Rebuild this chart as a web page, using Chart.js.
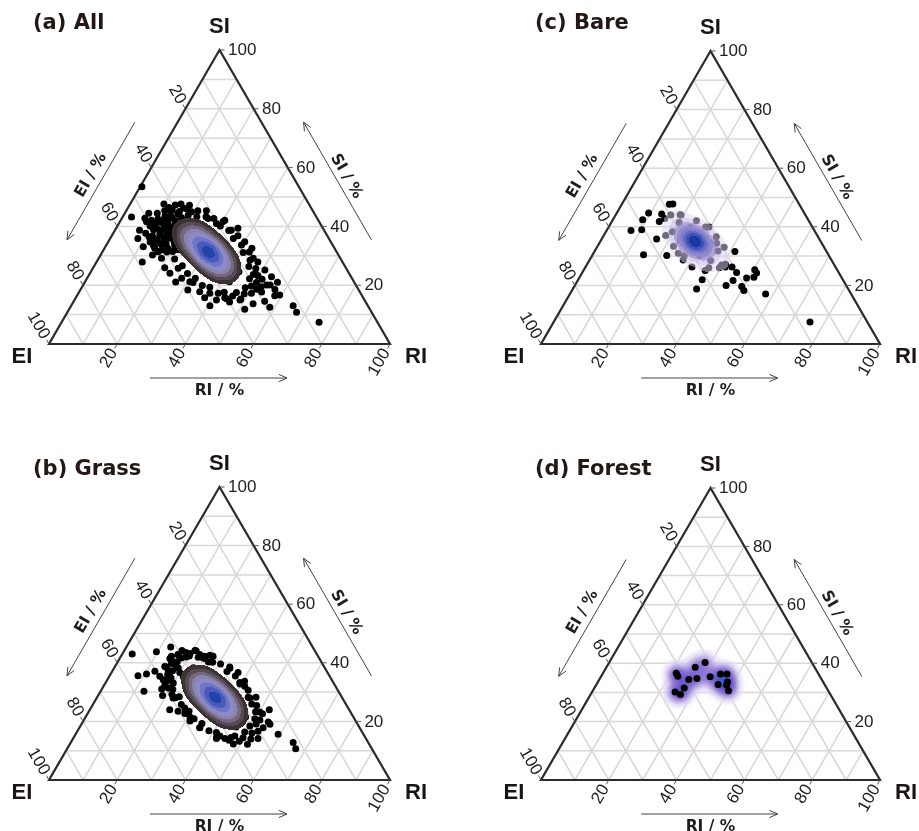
<!DOCTYPE html>
<html>
<head>
<meta charset="utf-8">
<script src="https://cdn.jsdelivr.net/npm/chart.js@4/dist/chart.umd.min.js"></script>
<style>
  html, body { margin: 0; padding: 0; background: #ffffff; }
  body { width: 919px; height: 831px; position: relative; overflow: hidden; }
  canvas { position: absolute; }
</style>
</head>
<body>
<canvas id="pa" width="460" height="415" style="left:0px;top:0px"></canvas>
<canvas id="pc" width="459" height="415" style="left:460px;top:0px"></canvas>
<canvas id="pb" width="460" height="416" style="left:0px;top:415px"></canvas>
<canvas id="pd" width="459" height="416" style="left:460px;top:415px"></canvas>
<script>
// ---------------- data (ternary percentages: SI, RI; EI = 100 - SI - RI) ----------------
const gridValues = [10, 20, 30, 40, 50, 60, 70, 80, 90];
const tickValues = [20, 40, 60, 80, 100];
const cornerNames = ['SI', 'EI', 'RI'];
const arrowTitles = ['SI / %', 'EI / %', 'RI / %'];
const panelTitles = ['(a) All', '(b) Grass', '(c) Bare', '(d) Forest'];

// (a) All -- single observations
const allSI = [53.5,43.2,47.6,47.6,45.5,44.5,44.5,41.6,38.7,35.9,33.1,30.3,27.9,32.0,29.2,24.1,22.4,21.2,17.8,15.0,14.3,11.8,25.2,22.9,16.4,20.1,13.0,10.8,7.4,29.2,34.8,38.7,41.0,42.7,43.3,43.8,18.6,
  42.8,42.1,42.5,43.5,43.2,44.2,42.1,40.1,39.4,40.8,40.1,41.1,37.7,36.7,37.4,38.1,38.7,39.4,34.7,35.4,34.0,36.0,36.7,38.1,41.5,40.8,32.6,33.3,34.7,32.6,
  41.6,40.9,41.3,42.3,42.0,43.0,40.9,38.9,38.2,39.6,38.9,39.9,36.5,35.5,36.2,36.9,37.5,38.2,33.5,34.2,34.8,35.5,36.9,40.3,39.6,32.1,31.4,46.4,45.9,
  19.1,17.5,17.6,19.3,22.4,26.6,31.5,36.2,40.4,43.5,45.1,45.0,43.3,40.1,35.9,31.1,26.4,22.2,
  23.2,17.7,15.0,15.7,18.4,21.1,25.9,15.7,32.6,39.4,42.1,27.9,20.1,16.7,13.7,13.0,
  17.3,15.3,15.4,17.3,20.9,25.8,31.3,36.9,41.7,45.3,47.3,47.2,45.3,41.7,36.8,31.3,25.7,20.9,
  17.1,16.3,17.3,19.9,24.0,28.9,34.1,39.0,42.9,45.5,46.3,45.3,42.7,38.6,33.7,28.5,23.6,19.7,
  22.0,21.0,18.5,24.0,19.5,14.5,12.5];
const allRI = [0.5,2.6,9.9,14.9,12.9,7.0,9.5,7.8,7.2,8.1,11.1,15.2,13.4,17.0,18.4,23.4,27.7,30.7,35.3,41.6,45.8,51.5,50.7,53.8,58.0,53.8,65.1,67.2,75.5,45.3,40.0,34.1,28.6,25.3,21.7,18.9,51.6,
  6.7,9.0,10.7,12.3,14.4,15.7,18.7,9.6,11.9,13.3,15.4,16.6,9.5,12.0,13.8,15.5,17.2,19.0,12.3,13.9,16.7,17.7,19.4,21.1,21.2,23.2,18.5,20.2,21.6,14.7,
  8.3,10.6,12.3,13.9,16.0,17.3,20.3,11.2,13.5,14.9,17.0,18.2,11.1,13.6,15.4,17.1,18.8,20.6,13.9,15.5,19.3,21.0,22.7,22.8,24.8,21.8,16.3,12.0,17.5,
  48.0,46.2,42.6,37.5,31.7,25.8,20.5,16.4,14.1,13.9,15.7,19.3,24.4,30.2,36.1,41.4,45.4,47.7,
  49.7,53.5,48.5,37.8,31.5,26.6,21.0,43.7,43.2,35.7,30.5,47.3,54.8,59.3,53.0,40.7,
  50.7,48.6,44.4,38.5,31.8,25.0,18.9,14.2,11.6,11.3,13.4,17.6,23.5,30.2,37.0,43.1,47.8,50.4,
  48.7,45.7,41.0,35.0,28.6,22.4,17.3,13.9,12.5,13.4,16.3,21.0,27.0,33.4,39.6,44.7,48.1,49.5,
  51.5,56.5,57.0,48.5,52.5,56.0,58.5];
// (a) All -- dense core: positions with N stacked observations
const allCoreSI = [41.4,39.7,38.0,40.3,38.6,36.9,35.2,33.5,37.5,35.8,34.1,32.4,30.7,34.7,33.0,31.3,29.6,27.9,31.9,30.2,28.5,26.8,25.1,29.1,27.4,25.7,24.0,22.3,24.6,22.9,21.2,
  29.0,30.8,31.8,33.6,31.0,31.8,30.5,32.2,27.1,35.5];
const allCoreRI = [19.7,19.2,18.6,24.2,23.7,23.1,22.6,22.0,28.2,27.6,27.1,26.5,25.9,32.1,31.6,31.0,30.4,29.9,36.0,35.5,34.9,34.4,33.8,40.0,39.4,38.9,38.3,37.8,43.4,42.8,42.3,
  32.7,33.3,28.8,29.3,31.5,30.4,31.2,31.9,36.9,25.1];
const allCoreN = [14,16,14,17,27,31,27,17,24,34,38,34,24,26,37,40,37,26,24,34,38,34,24,17,27,31,27,17,14,16,14,
  6,6,6,6,6,6,6,6,6,6];

// (b) Grass -- single observations
const grassSI = [43.0,45.4,43.8,42.6,35.6,36.2,37.1,30.3,31.1,28.8,28.0,24.0,24.6,21.5,17.9,14.7,13.6,16.4,20.9,24.0,19.8,19.0,15.6,12.8,10.7,33.3,28.2,36.7,
  41.5,42.8,43.5,44.2,38.7,39.4,35.4,36.0,36.7,42.8,41.5,38.1,32.0,25.9,23.2,18.4,15.0,15.0,20.1,23.5,29.3,32.6,
  40.3,41.6,42.3,37.5,38.2,34.2,34.8,35.5,41.6,40.3,31.4,28.1,
  16.0,14.4,14.5,16.2,19.3,23.5,28.4,33.1,37.3,40.4,42.0,41.9,40.2,37.0,32.8,28.0,23.3,19.1,
  14.2,12.2,12.3,14.2,17.8,22.7,28.2,33.8,38.6,42.2,44.2,44.1,42.2,38.6,33.7,28.2,22.6,17.8,
  14.0,13.2,14.2,16.8,20.9,25.8,31.0,35.9,39.8,42.4,43.2,42.2,39.6,35.5,30.6,25.4,20.5,16.6];
const grassRI = [2.9,13.0,9.6,25.9,8.3,10.5,12.5,12.7,17.5,18.9,22.4,23.4,27.5,30.6,35.3,41.8,46.0,49.2,49.9,52.6,54.4,55.3,59.4,65.2,67.0,39.3,44.3,37.1,
  14.7,16.4,18.4,20.7,14.6,17.2,14.8,16.8,20.0,22.8,25.0,34.0,41.4,46.5,50.2,49.7,47.0,42.6,31.3,26.1,21.4,17.7,
  16.3,18.0,20.0,16.2,18.8,16.4,18.4,21.6,24.4,26.6,19.3,23.0,
  51.5,49.7,46.1,41.0,35.2,29.3,24.0,19.9,17.6,17.4,19.2,22.8,27.9,33.7,39.6,44.9,48.9,51.2,
  54.2,52.1,47.9,42.0,35.3,28.5,22.4,17.7,15.1,14.8,16.9,21.1,27.0,33.7,40.5,46.6,51.3,53.9,
  52.2,49.2,44.5,38.5,32.1,25.9,20.8,17.4,16.0,16.9,19.8,24.5,30.5,36.9,43.1,48.2,51.6,53.0];
const grassCoreSI = [38.3,36.6,34.9,37.2,35.5,33.8,32.1,30.4,34.4,32.7,31.0,29.3,27.6,31.6,29.9,28.2,26.5,24.8,28.8,27.1,25.4,23.7,22.0,26.0,24.3,22.6,20.9,19.2,21.5,19.8,18.1,
  25.9,27.7,28.7,30.5,27.9,28.7,27.4,29.1,24.0,32.4];
const grassCoreRI = [23.2,22.7,22.1,27.7,27.2,26.6,26.1,25.5,31.7,31.1,30.6,30.0,29.4,35.6,35.1,34.5,33.9,33.4,39.5,39.0,38.4,37.9,37.3,43.5,42.9,42.4,41.8,41.3,46.9,46.3,45.8,
  36.2,36.8,32.3,32.8,35.0,33.9,34.7,35.4,40.4,28.6];
const grassCoreN = [14,16,14,17,27,31,27,17,24,34,38,34,24,26,37,40,37,26,24,34,38,34,24,17,27,31,27,17,14,16,14,
  6,6,6,6,6,6,6,6,6,6];

// (c) Bare
const bareSI = [47.8,47.7,44.7,42.4,38.7,39.0,35.8,30.5,44.4,41.8,44.1,42.1,39.9,34.4,31.6,26.3,25.1,27.0,26.3,26.3,24.4,25.3,24.2,22.5,22.8,21.9,18.8,20.0,21.7,19.6,18.3,17.1,7.5,30.2,31.0,28.7,
  27.2,26.0,30.1,37.0,42.8,44.0,39.9,33.0,26.0,33.4,44.0,36.6];
const bareRI = [15.0,14.0,9.4,8.8,7.2,10.2,16.2,15.0,13.4,14.0,19.0,24.8,29.6,34.6,41.4,31.4,35.9,39.8,41.2,43.2,45.5,50.4,51.5,49.4,51.4,36.6,36.5,44.6,45.8,49.4,50.7,57.7,75.6,22.0,25.0,27.6,
  40.8,36.5,27.2,18.3,15.1,19.3,28.6,37.5,39.6,22.4,16.3,33.4];
const bareCoreSI = [41.5,38.3,39.7,37.5,35.3,37.2,35.0,32.8,34.7,32.5,30.3,31.7,28.5,35.5,34.4,35.8,34.2,33.8,36.2];
const bareCoreRI = [20.0,19.6,24.2,23.8,23.5,28.2,27.9,27.6,32.3,32.0,31.6,36.3,35.8,27.0,28.8,28.5,27.2,30.0,25.8];
const bareCoreN  = [8,8,13,20,13,18,25,18,13,20,13,8,8,8,8,8,8,8,8];

// (d) Forest
const forestSI = [36.6,35.5,30.1,29.3,31.5,34.4,38.6,40.2,34.8,35.4,36.3,36.3,32.7,32.5,30.6,33.6];
const forestRI = [21.6,22.6,24.5,26.5,26.5,26.4,26.2,28.3,28.6,32.2,34.8,36.7,35.9,38.5,40.0,38.2];
const forestCoreSI = [];
const forestCoreRI = [];
const forestCoreN = [];

// ---------------- styles ----------------
const SQ = Math.sqrt(3) / 2;
const paletteDense = { smooth: false,
  t: [0.2, 0.3, 0.4, 0.5, 0.6, 0.71, 0.82, 0.93],
  c: [[59,51,51,1],[87,75,83,1],[115,104,127,1],[139,131,170,1],[140,139,202,1],[111,117,198,1],[74,90,186,1],[34,68,166,1]] };
const paletteBare = { smooth: false,
  t: [0.05, 0.12, 0.22, 0.33, 0.45, 0.57, 0.70, 0.85],
  c: [[222,212,244,0.5],[200,186,234,0.62],[160,148,208,0.85],[145,138,205,1],[128,126,205,1],[100,105,198,1],[62,82,184,1],[20,58,162,1]] };
const paletteForest = { smooth: true,
  t: [0.05, 0.2, 0.4, 0.65, 0.85, 1.0],
  c: [[232,225,247,0.6],[195,180,232,0.9],[150,125,215,1],[110,90,200,1],[75,80,200,1],[40,100,215,1]] };

const panels = [
  { id: 'pa', title: panelTitles[0], si: allSI, ri: allRI, csi: allCoreSI, cri: allCoreRI, cn: allCoreN,
    pad: {left: 49, top: 50, right: 70, bottom: 71}, titleX: 33, titleY: 24, sigma: 7.5, palette: paletteDense, densityOver: true },
  { id: 'pc', title: panelTitles[2], si: bareSI, ri: bareRI, csi: bareCoreSI, cri: bareCoreRI, cn: bareCoreN,
    pad: {left: 81, top: 51, right: 39, bottom: 71}, titleX: 75, titleY: 24, sigma: 7, palette: paletteBare, densityOver: true },
  { id: 'pb', title: panelTitles[1], si: grassSI, ri: grassRI, csi: grassCoreSI, cri: grassCoreRI, cn: grassCoreN,
    pad: {left: 49, top: 72, right: 70, bottom: 51}, titleX: 33, titleY: 55, sigma: 7.5, palette: paletteDense, densityOver: true },
  { id: 'pd', title: panelTitles[3], si: forestSI, ri: forestRI, csi: forestCoreSI, cri: forestCoreRI, cn: forestCoreN,
    pad: {left: 81, top: 73, right: 39, bottom: 51}, titleX: 75, titleY: 55, sigma: 6.5, palette: paletteForest, densityOver: false }
];

// ---------------- helpers ----------------
function pxOf(chart, si, ri) {
  return { x: chart.scales.x.getPixelForValue(ri + si / 2), y: chart.scales.y.getPixelForValue(si * SQ) };
}
function seg(ctx, a, b) { ctx.beginPath(); ctx.moveTo(a.x, a.y); ctx.lineTo(b.x, b.y); ctx.stroke(); }

function drawFrame(chart) {
  const ctx = chart.ctx;
  ctx.save();
  ctx.strokeStyle = '#dcd6d6';
  ctx.lineWidth = 1.5;
  for (const k of gridValues) {
    seg(ctx, pxOf(chart, k, 0), pxOf(chart, k, 100 - k));          // SI = k
    seg(ctx, pxOf(chart, 0, k), pxOf(chart, 100 - k, k));          // RI = k
    seg(ctx, pxOf(chart, 0, 100 - k), pxOf(chart, 100 - k, 0));    // EI = k
  }
  const A = pxOf(chart, 100, 0), L = pxOf(chart, 0, 0), R = pxOf(chart, 0, 100);
  ctx.strokeStyle = '#2b2b2b';
  ctx.lineWidth = 2.2;
  ctx.lineJoin = 'miter';
  ctx.beginPath(); ctx.moveTo(A.x, A.y); ctx.lineTo(L.x, L.y); ctx.lineTo(R.x, R.y); ctx.closePath(); ctx.stroke();
  ctx.restore();
}

function colorFor(pal, rel) {
  const t = pal.t, c = pal.c;
  if (!pal.smooth) {
    for (let i = t.length - 1; i >= 0; i--) if (rel >= t[i]) return c[i];
    return null;
  }
  if (rel < t[0]) { const f = rel / t[0]; return [c[0][0], c[0][1], c[0][2], c[0][3] * f * f]; }
  for (let i = 0; i < t.length - 1; i++) {
    if (rel < t[i + 1]) {
      const f = (rel - t[i]) / (t[i + 1] - t[i]);
      return [0, 1, 2, 3].map(k => c[i][k] + (c[i + 1][k] - c[i][k]) * f);
    }
  }
  return c[c.length - 1];
}

function drawDensity(chart, cfg) {
  const ctx = chart.ctx;
  const pts = cfg.si.map((s, i) => { const p = pxOf(chart, s, cfg.ri[i]); return [p.x, p.y, 1]; })
    .concat(cfg.csi.map((s, i) => { const p = pxOf(chart, s, cfg.cri[i]); return [p.x, p.y, cfg.cn[i]]; }));
  const sg = cfg.sigma, Rr = Math.ceil(sg * 3.5);
  let x0 = 1e9, y0 = 1e9, x1 = -1e9, y1 = -1e9;
  for (const p of pts) { x0 = Math.min(x0, p[0] - Rr); x1 = Math.max(x1, p[0] + Rr); y0 = Math.min(y0, p[1] - Rr); y1 = Math.max(y1, p[1] + Rr); }
  x0 = Math.floor(x0); y0 = Math.floor(y0); x1 = Math.ceil(x1); y1 = Math.ceil(y1);
  const W = x1 - x0, H = y1 - y0;
  const d = new Float32Array(W * H);
  const inv = 1 / (2 * sg * sg);
  for (const [px, py, w] of pts) {
    const i0 = Math.max(0, Math.floor(px - Rr - x0)), i1 = Math.min(W - 1, Math.ceil(px + Rr - x0));
    const j0 = Math.max(0, Math.floor(py - Rr - y0)), j1 = Math.min(H - 1, Math.ceil(py + Rr - y0));
    for (let j = j0; j <= j1; j++) {
      const dy = y0 + j + 0.5 - py;
      for (let i = i0; i <= i1; i++) {
        const dx = x0 + i + 0.5 - px;
        const r2 = dx * dx + dy * dy;
        if (r2 <= Rr * Rr) d[j * W + i] += w * Math.exp(-r2 * inv);
      }
    }
  }
  let mx = 0;
  for (let k = 0; k < d.length; k++) if (d[k] > mx) mx = d[k];
  const off = document.createElement('canvas');
  off.width = W; off.height = H;
  const octx = off.getContext('2d');
  const img = octx.createImageData(W, H);
  for (let k = 0; k < d.length; k++) {
    const c = colorFor(cfg.palette, d[k] / mx);
    if (!c) continue;
    img.data[4 * k] = c[0]; img.data[4 * k + 1] = c[1]; img.data[4 * k + 2] = c[2]; img.data[4 * k + 3] = Math.round(c[3] * 255);
  }
  octx.putImageData(img, 0, 0);
  ctx.drawImage(off, x0, y0);
}

function arrow(ctx, a, b) {
  ctx.beginPath(); ctx.moveTo(a.x, a.y); ctx.lineTo(b.x, b.y);
  const ang = Math.atan2(b.y - a.y, b.x - a.x), len = 9, sp = 0.42;
  ctx.moveTo(b.x - len * Math.cos(ang - sp), b.y - len * Math.sin(ang - sp));
  ctx.lineTo(b.x, b.y);
  ctx.lineTo(b.x - len * Math.cos(ang + sp), b.y - len * Math.sin(ang + sp));
  ctx.stroke();
}
function rotText(ctx, txt, p, ang, align) {
  ctx.save(); ctx.translate(p.x, p.y); ctx.rotate(ang); ctx.textAlign = align; ctx.textBaseline = 'middle';
  ctx.fillText(txt, 0, 0); ctx.restore();
}

function drawLabels(chart, cfg) {
  const ctx = chart.ctx;
  const A = pxOf(chart, 100, 0), L = pxOf(chart, 0, 0), R = pxOf(chart, 0, 100);
  const s = R.x - L.x;
  ctx.save();
  ctx.strokeStyle = '#555'; ctx.lineWidth = 1;
  ctx.fillStyle = '#1e1e1e';
  ctx.font = '17px "Liberation Sans", Arial, sans-serif';
  for (const v of tickValues) {
    const ps = pxOf(chart, v, 100 - v);
    seg(ctx, ps, { x: ps.x + 5, y: ps.y });
    ctx.textAlign = 'left'; ctx.textBaseline = 'middle';
    ctx.fillText(String(v), ps.x + 8.5, ps.y + 0.5);
    const pe = pxOf(chart, 100 - v, 0);
    seg(ctx, pe, { x: pe.x - 0.5 * 5, y: pe.y - SQ * 5 });
    rotText(ctx, String(v), { x: pe.x - 0.5 * 7, y: pe.y - SQ * 7 }, Math.PI / 3, 'right');
    const pr = pxOf(chart, 0, v);
    seg(ctx, pr, { x: pr.x - 0.5 * 5, y: pr.y + SQ * 5 });
    rotText(ctx, String(v), { x: pr.x - 0.5 * 7, y: pr.y + SQ * 7 }, -Math.PI / 3, 'right');
  }
  ctx.fillStyle = '#1a1414';
  ctx.font = 'bold 22px "Liberation Sans", Arial, sans-serif';
  ctx.textAlign = 'center'; ctx.textBaseline = 'middle';
  ctx.fillText(cornerNames[0], A.x, A.y - 23.5);
  ctx.fillText(cornerNames[1], L.x - 27, L.y + 13);
  ctx.fillText(cornerNames[2], R.x + 26, R.y + 13);
  ctx.strokeStyle = '#444'; ctx.lineWidth = 1;
  ctx.fillStyle = '#1e1e1e';
  ctx.font = 'bold 15.5px "DejaVu Sans", sans-serif';
  arrow(ctx, { x: L.x + 0.296 * s, y: L.y + 34 }, { x: L.x + 0.698 * s, y: L.y + 34 });
  rotText(ctx, arrowTitles[2], { x: L.x + 0.5 * s, y: L.y + 46.5 }, 0, 'center');
  const eP = (a, o) => ({ x: L.x + 0.5 * a - SQ * o, y: L.y - SQ * a - 0.5 * o });
  arrow(ctx, eP(0.689 * s, 36.5), eP(0.291 * s, 36.5));
  rotText(ctx, arrowTitles[1], eP(0.49 * s, 48), -Math.PI / 3, 'center');
  const sP = (a, o) => ({ x: R.x - 0.5 * a + SQ * o, y: R.y - SQ * a - 0.5 * o });
  arrow(ctx, sP(0.291 * s, 36), sP(0.69 * s, 36));
  rotText(ctx, arrowTitles[0], sP(0.49 * s, 46), Math.PI / 3, 'center');
  ctx.fillStyle = '#231815';
  ctx.font = 'bold 21px "DejaVu Sans", sans-serif';
  ctx.textAlign = 'left'; ctx.textBaseline = 'middle';
  ctx.fillText(cfg.title, cfg.titleX, cfg.titleY);
  ctx.restore();
}

function ternaryPlugin(cfg) {
  return {
    id: 'ternary_' + cfg.id,
    beforeDatasetsDraw(chart) { drawFrame(chart); if (!cfg.densityOver) drawDensity(chart, cfg); },
    afterDatasetsDraw(chart) { if (cfg.densityOver) drawDensity(chart, cfg); drawLabels(chart, cfg); }
  };
}

for (const cfg of panels) {
  const toXY = (si, ri) => si.map((v, i) => ({ x: ri[i] + v / 2, y: v * SQ }));
  const pointStyle = { pointRadius: 3.5, pointHoverRadius: 3.5, pointBackgroundColor: '#000', pointBorderColor: '#000', pointBorderWidth: 0, clip: false };
  new Chart(document.getElementById(cfg.id), {
    type: 'scatter',
    data: { datasets: [
      Object.assign({ label: 'observations', data: toXY(cfg.si, cfg.ri) }, pointStyle),
      Object.assign({ label: 'dense core', data: toXY(cfg.csi, cfg.cri) }, pointStyle)
    ] },
    options: {
      responsive: false, animation: false, events: [],
      layout: { padding: cfg.pad },
      plugins: { legend: { display: false }, tooltip: { enabled: false }, title: { display: false } },
      scales: {
        x: { type: 'linear', min: 0, max: 100, display: false },
        y: { type: 'linear', min: 0, max: 100 * SQ, display: false }
      }
    },
    plugins: [ternaryPlugin(cfg)]
  });
}
</script>
</body>
</html>
